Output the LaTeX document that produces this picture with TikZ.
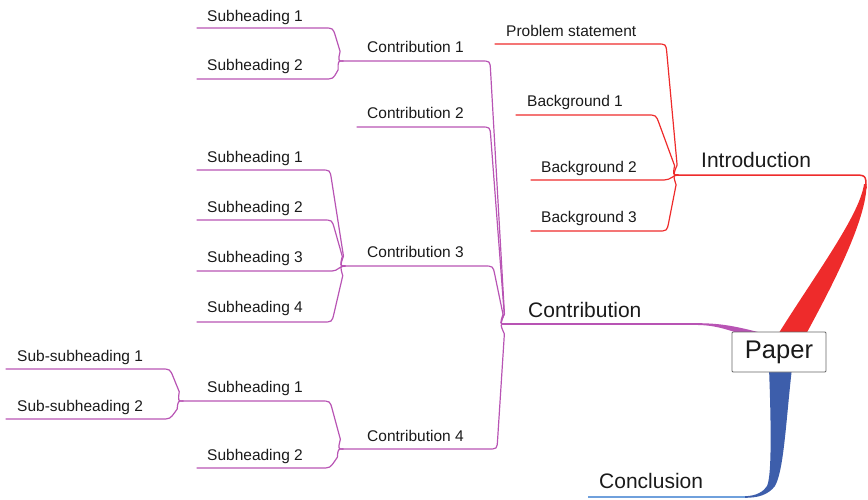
\documentclass[tikz,border=0pt]{standalone}
\usepackage{fontspec}
\setmainfont{Liberation Sans}
\usetikzlibrary{calc}
\definecolor{mmred}{HTML}{EE2B2B}
\definecolor{mmpur}{HTML}{B854B4}
\definecolor{mmblue}{HTML}{3D5EAB}
\definecolor{mmlblue}{HTML}{6FA0DC}
\definecolor{txt}{HTML}{1A1A1A}
\definecolor{boxgray}{HTML}{666666}
\newcommand{\mmlink}[4]{\draw[#1] (#2) -- ($(#3)!9pt!(#2)$) .. controls (#3) .. ($(#3)!9pt!(#4)$) -- ($(#4)!10pt!(#3)$) .. controls ($(#4)+(-5,0)$) .. (#4);}
\tikzset{
  lbl/.style={anchor=base west, inner sep=0pt, font=\fontsize{15.5}{18}\selectfont, text=txt},
  biglbl/.style={lbl, font=\fontsize{21}{25}\selectfont},
  redl/.style={draw=mmred, line width=1.2pt, line cap=round},
  purl/.style={draw=mmpur, line width=1.2pt, line cap=round},
}
\begin{document}
\begin{tikzpicture}[x=1pt, y=-1pt]
\useasboundingbox (0,0) rectangle (868,499);

% ---------- hubs ----------
\coordinate (IH) at (678,175);
\coordinate (CH) at (505,324);
\coordinate (C1H) at (343,61);
\coordinate (C3H) at (345,266);
\coordinate (C4H) at (343,449);
\coordinate (SH) at (183,401);

% ---------- Introduction (red) ----------
\node[lbl] (ps) at (506,36) {Problem statement};
\coordinate (psL) at (495,44); \coordinate (psC) at (666,44);
\mmlink{redl}{psL}{psC}{IH}
\node[lbl] (bg1) at (527,106) {Background 1};
\coordinate (bg1L) at (516,115); \coordinate (bg1C) at (656,115);
\mmlink{redl}{bg1L}{bg1C}{IH}
\node[lbl] (bg2) at (541,172) {Background 2};
\coordinate (bg2L) at (531,180); \coordinate (bg2C) at (664,180);
\draw[redl] (bg2L) -- (bg2C) .. controls (671,180) and (673,175) .. (IH);
\node[lbl] (bg3) at (541,222) {Background 3};
\coordinate (bg3L) at (531,231); \coordinate (bg3C) at (667,231);
\mmlink{redl}{bg3L}{bg3C}{IH}

\node[biglbl] (intro) at (701,167) {Introduction};
\coordinate (introE) at (852,175);
\draw[redl, line width=1.5pt] (IH) -- (introE) .. controls (866,175) .. (866,188);
\fill[mmred] (866.5,184) .. controls (867,220) and (830,290) .. (805,336)
  -- (777,336) .. controls (815,275) and (860,215) .. (864,184) -- cycle;

% ---------- Contribution (purple) ----------
\node[biglbl] (contrib) at (528,317) {Contribution};
\coordinate (CE) at (700,324);
\draw[purl, line width=1.6pt] (CH) -- (CE);
\fill[mmpur] (698,323.2) .. controls (722,323.2) and (738,327) .. (758,332)
  -- (758,335) -- (745,335) .. controls (730,331) and (718,325.3) .. (698,325) -- cycle;

\node[lbl] (c1) at (367,52) {Contribution 1};
\coordinate (c1C) at (490,61);
\mmlink{purl}{C1H}{c1C}{CH}
\node[lbl] (c2) at (367,118) {Contribution 2};
\coordinate (c2L) at (357,127); \coordinate (c2C) at (490,127);
\mmlink{purl}{c2L}{c2C}{CH}
\node[lbl] (c3) at (367,257) {Contribution 3};
\coordinate (c3C) at (493,266);
\mmlink{purl}{C3H}{c3C}{CH}
\node[lbl] (c4) at (367,441) {Contribution 4};
\coordinate (c4C) at (497,449);
\mmlink{purl}{C4H}{c4C}{CH}

% Contribution 1 children
\node[lbl] (s11) at (207,21) {Subheading 1};
\coordinate (s11L) at (197,28); \coordinate (s11C) at (333,28);
\mmlink{purl}{s11L}{s11C}{C1H}
\node[lbl] (s12) at (207,70) {Subheading 2};
\coordinate (s12L) at (197,79); \coordinate (s12C) at (333,79);
\mmlink{purl}{s12L}{s12C}{C1H}

% Contribution 3 children
\node[lbl] (s31) at (207,162) {Subheading 1};
\coordinate (s31L) at (197,170); \coordinate (s31C) at (330,170);
\mmlink{purl}{s31L}{s31C}{C3H}
\node[lbl] (s32) at (207,212) {Subheading 2};
\coordinate (s32L) at (197,220); \coordinate (s32C) at (332,220);
\mmlink{purl}{s32L}{s32C}{C3H}
\node[lbl] (s33) at (207,262) {Subheading 3};
\coordinate (s33L) at (197,271); \coordinate (s33C) at (332,271);
\draw[purl] (s33L) -- (s33C) .. controls (338,271) and (339,266) .. (C3H);
\node[lbl] (s34) at (207,312) {Subheading 4};
\coordinate (s34L) at (197,322); \coordinate (s34C) at (332,322);
\mmlink{purl}{s34L}{s34C}{C3H}

% Contribution 4 children
\node[lbl] (s41) at (207,392) {Subheading 1};
\coordinate (s41C) at (330,401);
\mmlink{purl}{SH}{s41C}{C4H}
\node[lbl] (s42) at (207,460) {Subheading 2};
\coordinate (s42L) at (197,468); \coordinate (s42C) at (330,468);
\mmlink{purl}{s42L}{s42C}{C4H}

\node[lbl] (ss1) at (17,361) {Sub-subheading 1};
\coordinate (ss1L) at (6,369); \coordinate (ss1C) at (170,369);
\mmlink{purl}{ss1L}{ss1C}{SH}
\node[lbl] (ss2) at (17,411) {Sub-subheading 2};
\coordinate (ss2L) at (6,419); \coordinate (ss2C) at (170,419);
\mmlink{purl}{ss2L}{ss2C}{SH}

% ---------- Conclusion (blue) ----------
\node[biglbl] (concl) at (599,488) {Conclusion};
\coordinate (clL) at (588,497); \coordinate (clE) at (748,497);
\draw[draw=mmlblue, line width=1.5pt] (clL) -- (clE);
\fill[mmblue] (769,368) -- (792,368) .. controls (786,420) and (784,470) .. (775,486)
  .. controls (768,495) and (758,497.8) .. (745,497.8) -- (745,496.2)
  .. controls (757,496) and (764,491) .. (767,486)
  .. controls (772,476) and (771,420) .. (769,368) -- cycle;

% ---------- central node ----------
\node[draw=boxgray, fill=white, line width=0.9pt, rounded corners=1pt,
      minimum width=94pt, minimum height=40pt, inner sep=0pt,
      font=\fontsize{25.5}{30}\selectfont, text=txt] (paper) at (779,352) {Paper};
\end{tikzpicture}
\end{document}
